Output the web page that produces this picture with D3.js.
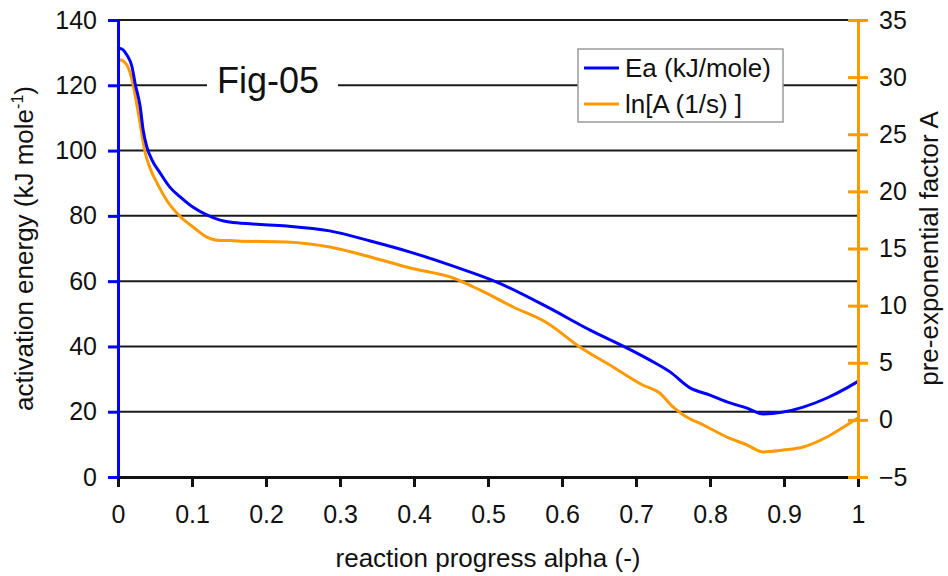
<!DOCTYPE html>
<html>
<head>
<meta charset="utf-8">
<script src="https://cdn.jsdelivr.net/npm/d3@7"></script>
<style>
  html, body { margin: 0; padding: 0; background: #fff; }
  svg { display: block; font-family: "Liberation Sans", Arial, sans-serif; }
  .tick-label { font-size: 25px; fill: #111; }
  .axis-label { font-size: 26px; fill: #111; }
</style>
</head>
<body>
<div id="chart"></div>
<script>
const WIDTH = 948;
const HEIGHT = 576;
const MARGIN = { top: 20, right: 90, bottom: 99, left: 118 };

const COLORS = {
  ea: "#0000ff",
  lnA: "#ff9900",
  grid: "#1a1a1a",
};

// Ea (kJ/mole)
const eaAlpha = [0, 0.003, 0.012, 0.019, 0.023, 0.030, 0.034, 0.039, 0.046, 0.057, 0.070, 0.084,
  0.101, 0.120, 0.138, 0.151, 0.182, 0.228, 0.286, 0.341, 0.395, 0.453, 0.512, 0.580, 0.638,
  0.688, 0.719, 0.746, 0.773, 0.800, 0.823, 0.850, 0.872, 0.899, 0.926, 0.958, 0.985, 1.0];
const eaValues = [130.6, 131.3, 129.3, 125.6, 120.7, 113.4, 106.3, 101.1, 97.1, 93.1, 88.8, 85.8,
  82.7, 80.3, 78.7, 78.1, 77.5, 76.9, 75.4, 72.3, 68.9, 64.6, 59.7, 52.1, 45.0,
  39.5, 35.8, 32.2, 27.3, 25.1, 23.0, 21.1, 19.3, 19.9, 21.4, 24.2, 27.3, 29.3];

// ln[A (1/s)]
const lnAAlpha = [0, 0.003, 0.012, 0.019, 0.026, 0.032, 0.036, 0.043, 0.053, 0.066, 0.084, 0.101,
  0.120, 0.138, 0.151, 0.161, 0.228, 0.286, 0.341, 0.395, 0.453, 0.489, 0.534, 0.580, 0.624,
  0.669, 0.709, 0.732, 0.750, 0.764, 0.791, 0.823, 0.850, 0.872, 0.899, 0.926, 0.958, 0.985, 1.0];
const lnAValues = [31.3, 31.5, 31.06, 29.75, 27.4, 25.1, 23.6, 22.1, 20.7, 19.2, 17.8, 16.9,
  16.0, 15.7, 15.7, 15.66, 15.57, 15.13, 14.26, 13.29, 12.42, 11.37, 9.88, 8.48, 6.38,
  4.63, 3.05, 2.35, 1.13, 0.43, -0.45, -1.5, -2.2, -2.81, -2.64, -2.37, -1.5, -0.45, 0.16];

const xTicks = [0, 0.1, 0.2, 0.3, 0.4, 0.5, 0.6, 0.7, 0.8, 0.9, 1];
const yLeftTicks = [0, 20, 40, 60, 80, 100, 120, 140];
const yRightTicks = [-5, 0, 5, 10, 15, 20, 25, 30, 35];

const legendItems = [
  { label: "Ea (kJ/mole)", color: COLORS.ea },
  { label: "ln[A (1/s) ]", color: COLORS.lnA },
];

const innerWidth = WIDTH - MARGIN.left - MARGIN.right;
const innerHeight = HEIGHT - MARGIN.top - MARGIN.bottom;

const x = d3.scaleLinear().domain([0, 1]).range([0, innerWidth]);
const yLeft = d3.scaleLinear().domain([0, 140]).range([innerHeight, 0]);
const yRight = d3.scaleLinear().domain([-5, 35]).range([innerHeight, 0]);

const svg = d3.select("#chart")
  .append("svg")
  .attr("width", WIDTH)
  .attr("height", HEIGHT)
  .attr("viewBox", `0 0 ${WIDTH} ${HEIGHT}`);

const g = svg.append("g")
  .attr("transform", `translate(${MARGIN.left},${MARGIN.top})`);

// —— Gridlines (140 down to 20; 0 is the x axis) ——
g.append("g")
  .selectAll("line")
  .data(yLeftTicks.filter((d) => d > 0))
  .join("line")
  .attr("x1", 0)
  .attr("x2", innerWidth)
  .attr("y1", (d) => yLeft(d))
  .attr("y2", (d) => yLeft(d))
  .attr("stroke", COLORS.grid)
  .attr("stroke-width", 2);

// —— Figure tag sitting on the 120 gridline ——
g.append("rect")
  .attr("x", 89)
  .attr("y", yLeft(120) - 20)
  .attr("width", 131)
  .attr("height", 40)
  .attr("fill", "#fff");

g.append("text")
  .attr("x", 99)
  .attr("y", yLeft(120) + 8)
  .attr("font-size", 36)
  .attr("fill", "#111")
  .text("Fig-05");

// —— Lines ——
const eaSeries = eaAlpha.map((a, i) => ({ a, v: eaValues[i] }));
const lnASeries = lnAAlpha.map((a, i) => ({ a, v: lnAValues[i] }));

g.append("path")
  .datum(lnASeries)
  .attr("fill", "none")
  .attr("stroke", COLORS.lnA)
  .attr("stroke-width", 3)
  .attr("d", d3.line().curve(d3.curveMonotoneX).x((d) => x(d.a)).y((d) => yRight(d.v)));

g.append("path")
  .datum(eaSeries)
  .attr("fill", "none")
  .attr("stroke", COLORS.ea)
  .attr("stroke-width", 3)
  .attr("d", d3.line().curve(d3.curveMonotoneX).x((d) => x(d.a)).y((d) => yLeft(d.v)));

// —— Bottom axis ——
const xAxis = g.append("g")
  .attr("transform", `translate(0,${innerHeight})`)
  .call(d3.axisBottom(x).tickValues(xTicks).tickSize(10).tickPadding(18)
    .tickFormat((d) => (d === 0 || d === 1 ? d3.format("d")(d) : d3.format(".1f")(d))));
xAxis.select(".domain").attr("stroke", "#111").attr("stroke-width", 3);
xAxis.selectAll(".tick line").attr("stroke", "#111").attr("stroke-width", 3);
xAxis.selectAll(".tick text").attr("class", "tick-label").attr("font-size", null).attr("font-family", null);

// —— Left axis ——
const leftAxis = g.append("g")
  .call(d3.axisLeft(yLeft).tickValues(yLeftTicks).tickSize(10).tickSizeOuter(0).tickPadding(11));
leftAxis.select(".domain").attr("stroke", COLORS.ea).attr("stroke-width", 3);
leftAxis.selectAll(".tick line").attr("stroke", COLORS.ea).attr("stroke-width", 3);
leftAxis.selectAll(".tick text").attr("class", "tick-label").attr("font-size", null).attr("font-family", null);

// —— Right axis ——
const rightAxis = g.append("g")
  .attr("transform", `translate(${innerWidth},0)`)
  .call(d3.axisRight(yRight).tickValues(yRightTicks).tickSize(10).tickSizeOuter(0).tickPadding(11));
rightAxis.select(".domain").attr("stroke", COLORS.lnA).attr("stroke-width", 3);
rightAxis.selectAll(".tick line").attr("stroke", COLORS.lnA).attr("stroke-width", 3).attr("x1", -10);
rightAxis.selectAll(".tick text").attr("class", "tick-label").attr("font-size", null).attr("font-family", null);

// —— Axis titles ——
svg.append("text")
  .attr("class", "axis-label")
  .attr("x", MARGIN.left + innerWidth / 2)
  .attr("y", 567)
  .attr("text-anchor", "middle")
  .text("reaction progress alpha (-)");

const leftTitle = svg.append("text")
  .attr("class", "axis-label")
  .attr("transform", `translate(33,${MARGIN.top + innerHeight / 2}) rotate(-90)`)
  .attr("text-anchor", "middle");
leftTitle.append("tspan").text("activation energy (kJ mole");
leftTitle.append("tspan").attr("font-size", 16).attr("dy", -10).text("-1");
leftTitle.append("tspan").attr("dy", 10).text(")");

svg.append("text")
  .attr("class", "axis-label")
  .attr("transform", `translate(938,${MARGIN.top + innerHeight / 2}) rotate(-90)`)
  .attr("text-anchor", "middle")
  .text("pre-exponential factor A");

// —— Legend ——
const legend = svg.append("g").attr("transform", "translate(578,49)");

legend.append("rect")
  .attr("width", 205)
  .attr("height", 73)
  .attr("fill", "#fff")
  .attr("stroke", "#9a9a9a")
  .attr("stroke-width", 1.5);

const legendRow = legend.selectAll(".legend-item")
  .data(legendItems)
  .join("g")
  .attr("class", "legend-item")
  .attr("transform", (_, i) => `translate(0,${19 + i * 36})`);

legendRow.append("line")
  .attr("x1", 6)
  .attr("x2", 41)
  .attr("stroke", (d) => d.color)
  .attr("stroke-width", 3);

legendRow.append("text")
  .attr("x", 47)
  .attr("y", 9)
  .attr("font-size", 26)
  .attr("fill", "#111")
  .text((d) => d.label);
</script>
</body>
</html>
